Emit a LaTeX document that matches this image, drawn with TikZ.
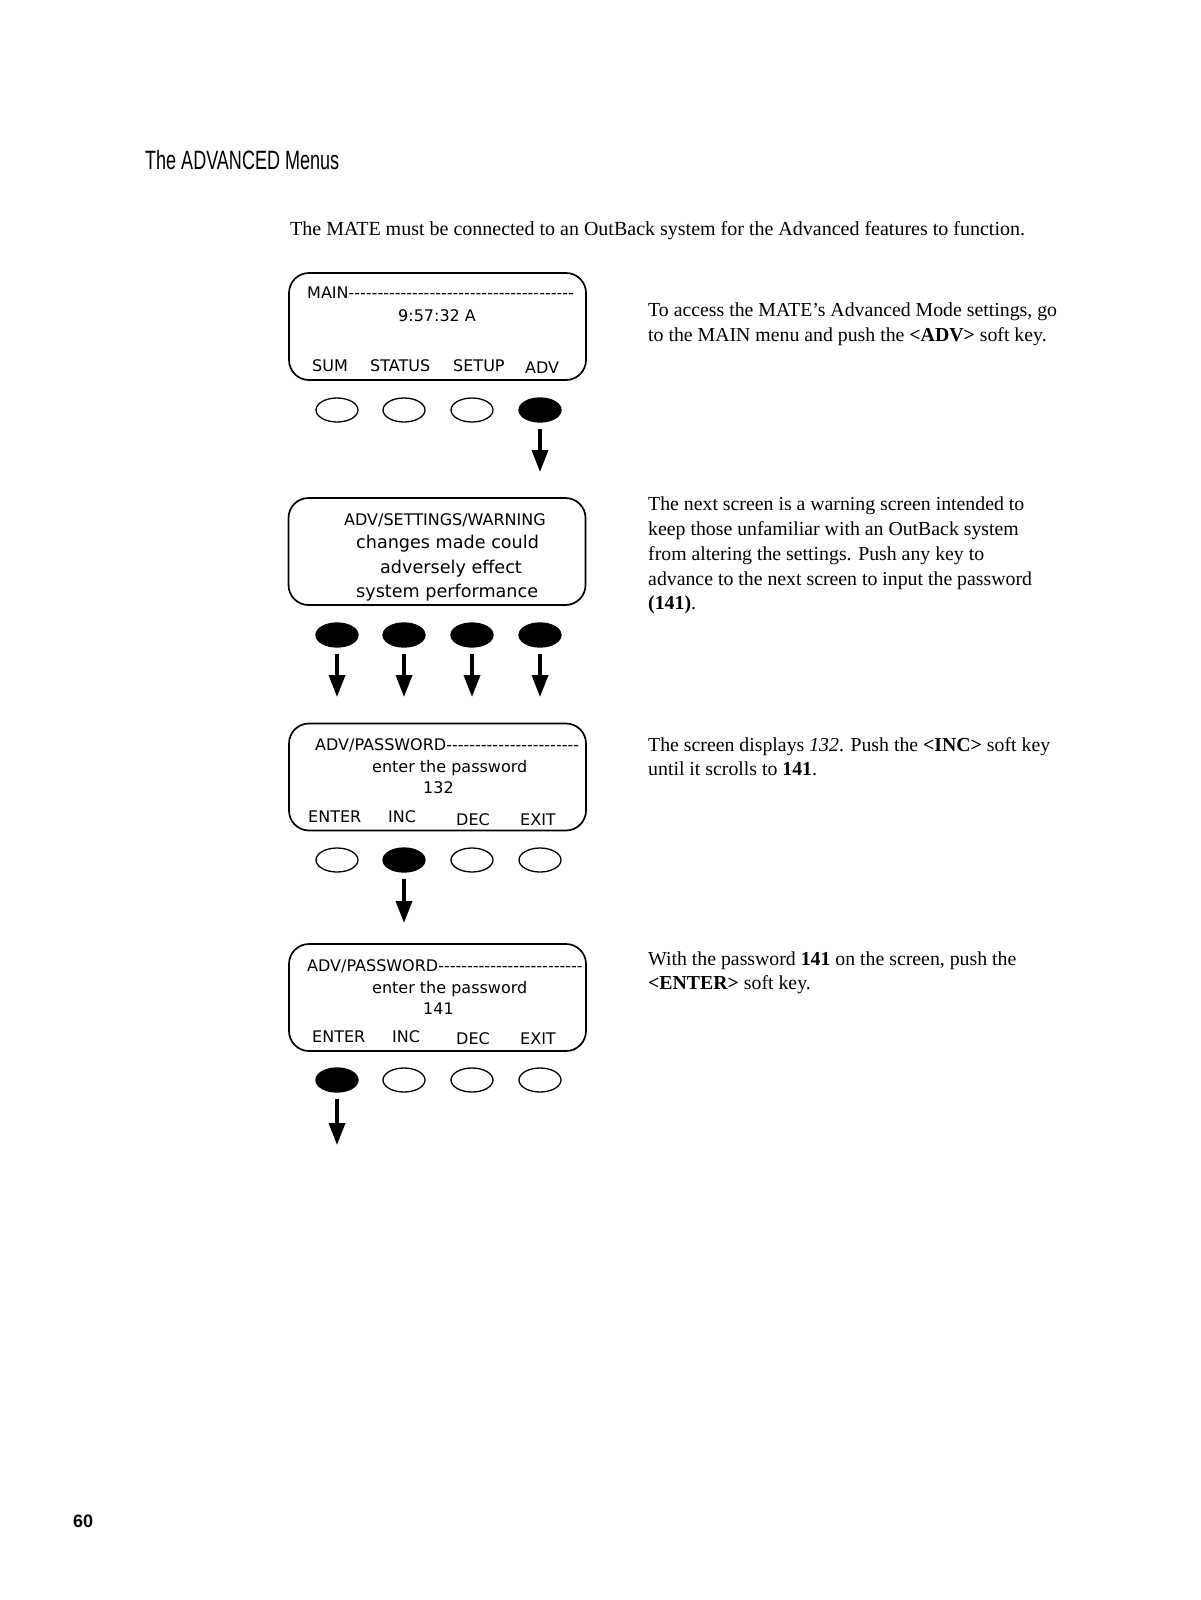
\documentclass[tikz,border=0pt]{standalone}
\usepackage{fontspec}
\setmainfont{Liberation Serif}
\newfontfamily\scrfont{DejaVu Sans}
\newfontfamily\headfont{Liberation Sans}
\usetikzlibrary{shapes.geometric,arrows.meta}
\begin{document}
\begin{tikzpicture}[x=1pt,y=-1pt,
  screen/.style={draw, line width=1.7pt, rounded corners=20pt, minimum width=297pt, minimum height=107pt, inner sep=0pt},
  key/.style={draw, ellipse, line width=1.3pt, minimum width=42pt, minimum height=24pt, inner sep=0pt},
  keyon/.style={key, fill=black},
  push/.style={line width=3.6pt, shorten <=6pt, -{Triangle[width=16pt,length=22pt]}},
  lcd/.style={inner sep=0pt, anchor=base west, font=\scrfont\fontsize{16}{19}\selectfont},
  lcdbig/.style={inner sep=0pt, anchor=base west, font=\scrfont\fontsize{17.6}{20}\selectfont},
  body/.style={inner sep=0pt, anchor=base west, font=\fontsize{19.8}{24.6}\selectfont},
]
\useasboundingbox (0,0) rectangle (1200,1600);
\fill[white] (0,0) rectangle (1200,1600);

% heading and intro
\node[inner sep=0pt, anchor=base west] (title) at (145,169) {\headfont\fontsize{26.5}{30}\selectfont\scalebox{0.68}[1]{The ADVANCED Menus}};
\node[body, font=\fontsize{20}{24.6}\selectfont] (intro) at (290,235) {The MATE must be connected to an OutBack system for the Advanced features to function.};
\node[inner sep=0pt, anchor=base west] (pg) at (73,1527) {\headfont\bfseries\fontsize{18}{20}\selectfont 60};

% ---------- screen 1
\node[screen] (s1) at (437.5,326.5) {};
\node[lcd] (s1a) at (307,298) {MAIN---------------------------------------};
\node[lcd] (s1b) at (398,321) {9:57:32 A};
\node[lcd] (s1c) at (312,371) {SUM};
\node[lcd] (s1d) at (370,371) {STATUS};
\node[lcd] (s1e) at (453,371) {SETUP};
\node[lcd] (s1f) at (525,373) {ADV};
\node[key] (k11) at (337,410) {};
\node[key] (k12) at (404,410) {};
\node[key] (k13) at (472,410) {};
\node[keyon] (k14) at (540,410) {};
\coordinate (e14) at (540,472);
\draw[push] (k14.south) -- (e14);

% ---------- screen 2
\node[screen] (s2) at (437,551.5) {};
\node[lcd] (s2a) at (344,525) {ADV/SETTINGS/WARNING};
\node[lcdbig] (s2b) at (356,548) {changes made could};
\node[lcdbig] (s2c) at (380,573) {adversely effect};
\node[lcdbig] (s2d) at (356,597) {system performance};
\node[keyon] (k21) at (337,635) {};
\node[keyon] (k22) at (404,635) {};
\node[keyon] (k23) at (472,635) {};
\node[keyon] (k24) at (540,635) {};
\coordinate (e21) at (337,697);
\coordinate (e22) at (404,697);
\coordinate (e23) at (472,697);
\coordinate (e24) at (540,697);
\draw[push] (k21.south) -- (e21);
\draw[push] (k22.south) -- (e22);
\draw[push] (k23.south) -- (e23);
\draw[push] (k24.south) -- (e24);

% ---------- screen 3
\node[screen] (s3) at (437.5,777) {};
\node[lcd] (s3a) at (315,750) {ADV/PASSWORD-----------------------};
\node[lcd] (s3b) at (372,772) {enter the password};
\node[lcd] (s3c) at (423,793) {132};
\node[lcd] (s3d) at (308,822) {ENTER};
\node[lcd] (s3e) at (388,822) {INC};
\node[lcd] (s3f) at (456,825) {DEC};
\node[lcd] (s3g) at (520,825) {EXIT};
\node[key] (k31) at (337,860) {};
\node[keyon] (k32) at (404,860) {};
\node[key] (k33) at (472,860) {};
\node[key] (k34) at (540,860) {};
\coordinate (e32) at (404,923);
\draw[push] (k32.south) -- (e32);

% ---------- screen 4
\node[screen] (s4) at (437.5,997.5) {};
\node[lcd] (s4a) at (307,971) {ADV/PASSWORD-------------------------};
\node[lcd] (s4b) at (372,993) {enter the password};
\node[lcd] (s4c) at (423,1014) {141};
\node[lcd] (s4d) at (312,1042) {ENTER};
\node[lcd] (s4e) at (392,1042) {INC};
\node[lcd] (s4f) at (456,1044) {DEC};
\node[lcd] (s4g) at (520,1044) {EXIT};
\node[keyon] (k41) at (337,1080) {};
\node[key] (k42) at (404,1080) {};
\node[key] (k43) at (472,1080) {};
\node[key] (k44) at (540,1080) {};
\coordinate (e41) at (337,1145);
\draw[push] (k41.south) -- (e41);

% ---------- explanations
\node[body] (p1a) at (648,316) {To access the MATE’s Advanced Mode settings, go};
\node[body] (p1b) at (648,341) {to the MAIN menu and push the \textbf{<ADV>} soft key.};

\node[body] (p2a) at (648,510) {The next screen is a warning screen intended to};
\node[body] (p2b) at (648,535) {keep those unfamiliar with an OutBack system};
\node[body] (p2c) at (648,560) {from altering the settings. Push any key to};
\node[body] (p2d) at (648,585) {advance to the next screen to input the password};
\node[body] (p2e) at (648,609) {\textbf{(141)}.};

\node[body] (p3a) at (648,751) {The screen displays \textit{132}. Push the \textbf{<INC>} soft key};
\node[body] (p3b) at (648,775) {until it scrolls to \textbf{141}.};

\node[body] (p4a) at (648,965) {With the password \textbf{141} on the screen, push the};
\node[body] (p4b) at (648,989) {\textbf{<ENTER>} soft key.};
\end{tikzpicture}
\end{document}
